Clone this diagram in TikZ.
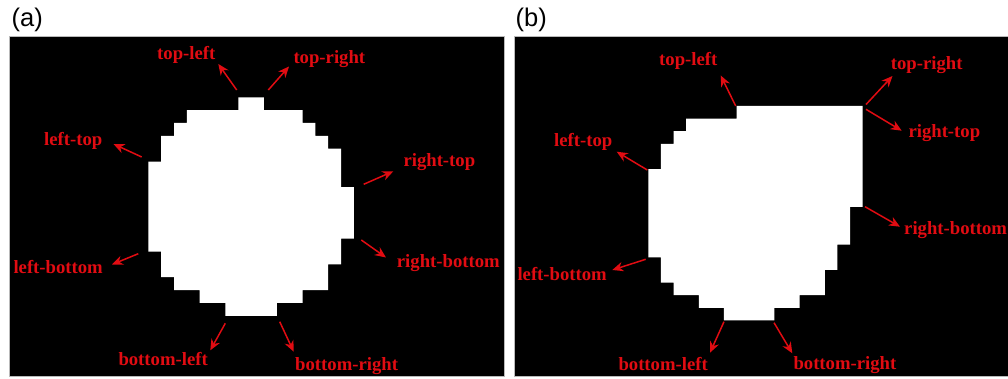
\documentclass[tikz,border=0pt]{standalone}
\usepackage{fontspec}
\setmainfont{Liberation Serif}
\newfontfamily\panelfont{Liberation Sans}
\usetikzlibrary{arrows.meta}
\definecolor{lblred}{RGB}{225,12,18}
\begin{document}
\begin{tikzpicture}[x=1pt,y=-1pt,
  panel/.style={fill=black,draw=gray!55,line width=0.8pt},
  blob/.style={fill=white,draw=none},
  lbl/.style={text=lblred,font=\fontsize{18.7}{20}\selectfont\bfseries,anchor=base west,inner sep=0pt},
  tag/.style={font=\panelfont\fontsize{25.5}{28}\selectfont,anchor=base west,inner sep=0pt},
  dirarrow/.style={draw=lblred,line width=1.5pt,-{Stealth[length=11pt,width=9.5pt]}}]
\useasboundingbox[fill=white] (0,0) rectangle (1008,379);

% panel tags
\node[tag] (tagA) at (11.5,26.3) {(a)};
\node[tag] (tagB) at (515.5,26.3) {(b)};

% black backgrounds
\path[panel] (9.3,36.7) rectangle (504,376.5);
\path[panel] (514.5,36.7) rectangle (1010,376.5);

% ---------- panel (a): round binary region ----------
\begin{scope}[xshift=148.3pt,yshift=-97.3pt,x=12.85pt,y=-12.85pt]
\path[blob] (7,0)--(9,0)--(9,1)--(12,1)--(12,2)--(13,2)--(13,3)--(14,3)--(14,4)--(15,4)
  --(15,7)--(16,7)--(16,11)--(15,11)--(15,13)--(14,13)--(14,15)--(12,15)--(12,16)--(10,16)
  --(10,17)--(6,17)--(6,16)--(4,16)--(4,15)--(2,15)--(2,14)--(1,14)--(1,12)--(0,12)
  --(0,5)--(1,5)--(1,3)--(2,3)--(2,2)--(3,2)--(3,1)--(7,1)--cycle;
\end{scope}

\node[lbl] (aTL) at (157,60) {top-left};
\node[lbl] (aTR) at (293.3,63.3) {top-right};
\node[lbl] (aLT) at (44,146) {left-top};
\node[lbl] (aRT) at (403.3,166.7) {right-top};
\node[lbl] (aLB) at (13.3,273.3) {left-bottom};
\node[lbl] (aRB) at (396.7,267.3) {right-bottom};
\node[lbl] (aBL) at (118.3,365.7) {bottom-left};
\node[lbl] (aBR) at (295,370) {bottom-right};

\coordinate (aTLs) at (236.7,90);    \coordinate (aTLe) at (218.3,64);
\coordinate (aTRs) at (268.3,90);    \coordinate (aTRe) at (289,66.5);
\coordinate (aLTs) at (141.7,157);   \coordinate (aLTe) at (113.5,144);
\coordinate (aRTs) at (363.7,184.3); \coordinate (aRTe) at (393.3,171.3);
\coordinate (aLBs) at (138.3,253.7); \coordinate (aLBe) at (112,264.5);
\coordinate (aRBs) at (361.3,240);   \coordinate (aRBe) at (386,257.5);
\coordinate (aBLs) at (225.3,323.3); \coordinate (aBLe) at (210.3,350.3);
\coordinate (aBRs) at (279.7,321.7); \coordinate (aBRe) at (293.7,351.7);

\foreach \k in {TL,TR,LT,RT,LB,RB,BL,BR}
  \draw[dirarrow] (a\k s) -- (a\k e);

% ---------- panel (b): region with a cut corner ----------
\begin{scope}[xshift=648.3pt,yshift=-106pt,x=12.61pt,y=-12.61pt]
\path[blob] (7,0)--(17,0)--(17,8)--(16,8)--(16,11)--(15,11)--(15,13)--(14,13)--(14,15)
  --(12,15)--(12,16)--(10,16)--(10,17)--(6,17)--(6,16)--(4,16)--(4,15)--(2,15)--(2,14)
  --(1,14)--(1,12)--(0,12)--(0,5)--(1,5)--(1,3)--(2,3)--(2,2)--(3,2)--(3,1)--(7,1)--cycle;
\end{scope}

\node[lbl] (bTL) at (659,66) {top-left};
\node[lbl] (bTR) at (890.7,69.3) {top-right};
\node[lbl] (bLT) at (554,146.7) {left-top};
\node[lbl] (bRT) at (908.3,137.3) {right-top};
\node[lbl] (bLB) at (517.3,280) {left-bottom};
\node[lbl] (bRB) at (904,234) {right-bottom};
\node[lbl] (bBL) at (618.3,370) {bottom-left};
\node[lbl] (bBR) at (793.3,369.3) {bottom-right};

\coordinate (bTLs) at (735.7,106);   \coordinate (bTLe) at (720.7,75.5);
\coordinate (bTRs) at (866,104.5);   \coordinate (bTRe) at (892.5,76);
\coordinate (bLTs) at (647.3,170);   \coordinate (bLTe) at (616.7,151.7);
\coordinate (bRTs) at (866,109.3);   \coordinate (bRTe) at (901.7,130.7);
\coordinate (bLBs) at (645.7,259.3); \coordinate (bLBe) at (612.3,270);
\coordinate (bRBs) at (865,206.7);   \coordinate (bRBe) at (900,226.7);
\coordinate (bBLs) at (724,321.7);   \coordinate (bBLe) at (710,352.7);
\coordinate (bBRs) at (774,322.7);   \coordinate (bBRe) at (792.3,353.3);

\foreach \k in {TL,TR,LT,RT,LB,RB,BL,BR}
  \draw[dirarrow] (b\k s) -- (b\k e);
\end{tikzpicture}
\end{document}
